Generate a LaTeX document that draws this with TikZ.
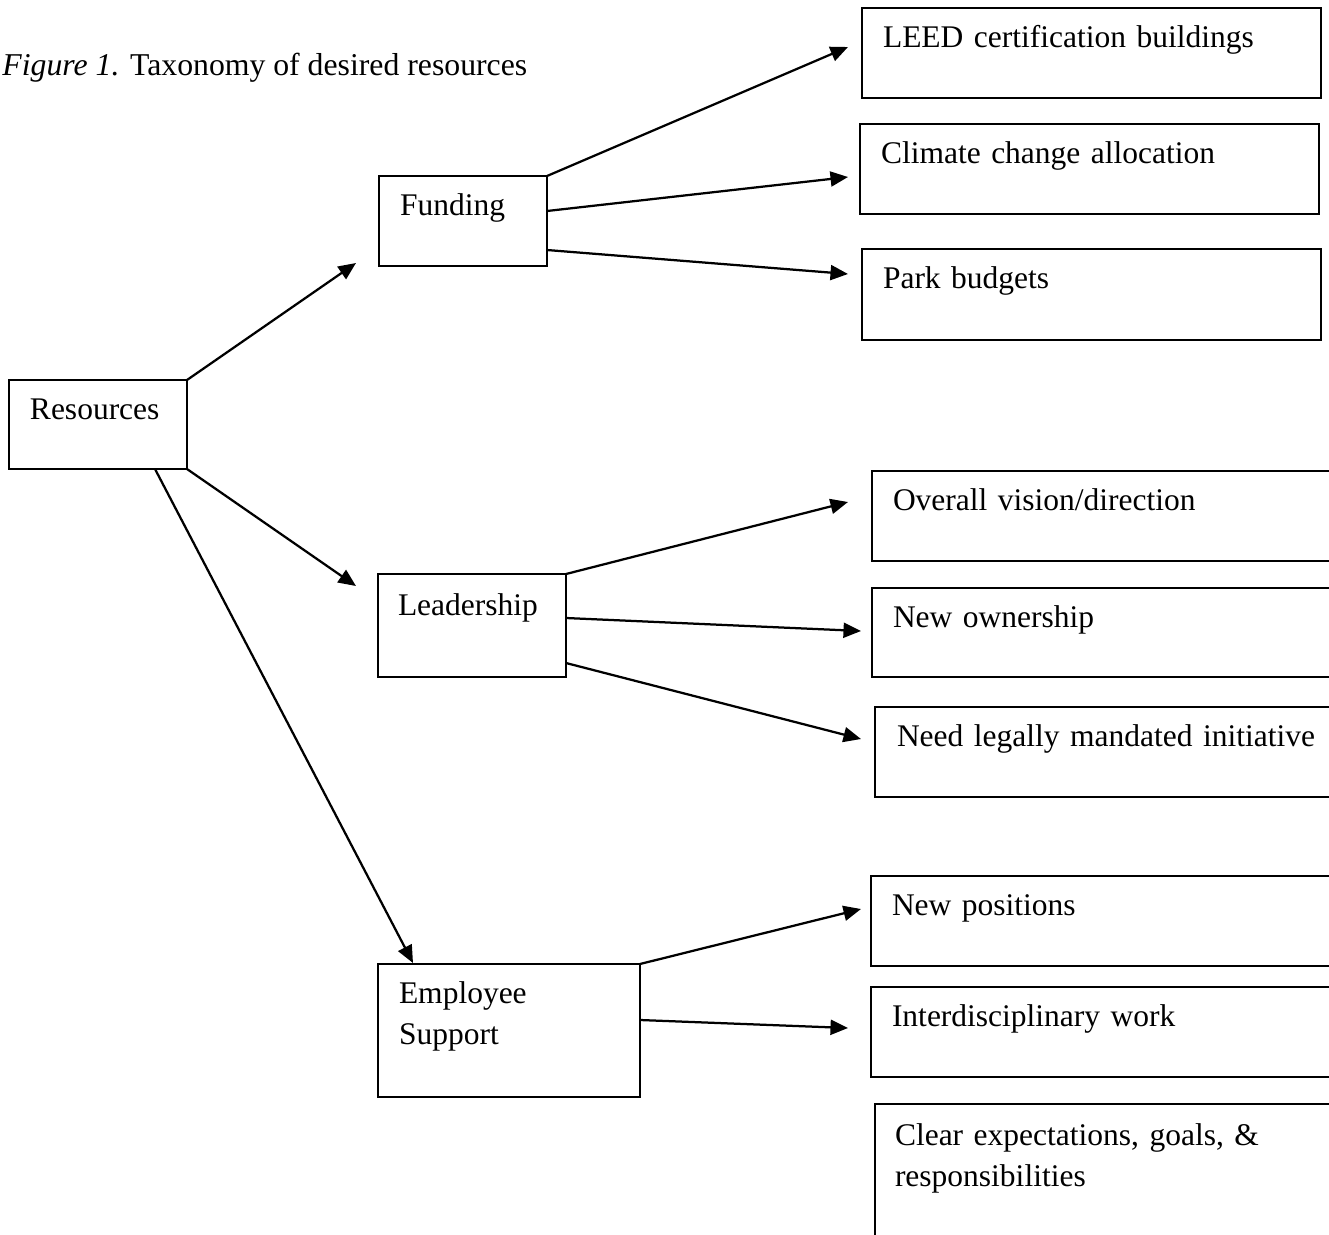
\documentclass[tikz,border=0pt]{standalone}
\usepackage{fontspec}
\setmainfont{Liberation Serif}
\usepackage{tikz}
\usetikzlibrary{positioning, arrows.meta}

\begin{document}
\begin{tikzpicture}[x=0.4pt, y=-0.4pt,
    box/.style={draw, line width=0.9pt, anchor=north west, outer sep=0pt,
        inner xsep=8.4pt, inner ysep=0pt, align=left,
        font=\fontsize{12.6}{16.4}\selectfont, text height=15.8pt, text depth=20.2pt},
    arr/.style={line width=0.9pt, -{Triangle[length=7pt,width=6pt]}}]
    \clip (0,0) rectangle (1329,1235);
    \node[anchor=base west, inner sep=0pt, font=\fontsize{12.7}{15}\selectfont] (T) at (2,75)
        {\textit{Figure 1.} Taxonomy of desired resources};
    % middle column
    \node[box, text width=54.4pt, text depth=19.8pt] (R) at (9,380) {Resources};
    \node[box, text width=50.4pt] (F) at (379,176) {Funding};
    \node[box, inner xsep=8pt, text width=59.2pt, text height=16.4pt, text depth=24.8pt] (L) at (378,574) {Leadership};
    \node[box, text width=88pt, text depth=37.4pt] (E) at (378,964) {Employee\\Support};
    % right column
    \node[box, text width=166.8pt] (F1) at (862,8) {LEED certification buildings};
    \node[box, text width=166.8pt] (F2) at (860,124) {Climate change allocation};
    \node[box, text width=166.8pt, text depth=20.6pt] (F3) at (862,249) {Park budgets};
    \node[box, text width=178.4pt] (L1) at (872,471) {Overall vision/direction};
    \node[box, text width=178.4pt, text depth=19.8pt] (L2) at (872,588) {New ownership};
    \node[box, inner xsep=8.8pt, text width=176.4pt] (L3) at (875,707) {Need legally mandated initiative};
    \node[box, text width=178.8pt] (E1) at (871,876) {New positions};
    \node[box, text width=178.8pt] (E2) at (871,987) {Interdisciplinary work};
    \node[box, inner xsep=8pt, text width=178pt, text height=16.4pt, text depth=46pt] (E3) at (875,1104)
        {Clear expectations, goals, \&\\responsibilities};
    % arrows
    \draw[arr] (R.north east) -- ([shift={(-23,-3)}]F.south west);
    \draw[arr] (R.south east) -- ([shift={(-22,12)}]L.north west);
    \draw[arr] ([shift={(-32,0)}]R.south east) -- ([shift={(35,-1)}]E.north west);
    \draw[arr] (F.north east) -- ([shift={(-14,-6)}]F1.west);
    \draw[arr] ([shift={(0,-10)}]F.east) -- ([shift={(-12,8)}]F2.west);
    \draw[arr] ([shift={(0,29)}]F.east) -- ([shift={(-14,-20.5)}]F3.west);
    \draw[arr] (L.north east) -- ([shift={(-24,-14)}]L1.west);
    \draw[arr] ([shift={(0,-7.5)}]L.east) -- ([shift={(-11,-1.5)}]L2.west);
    \draw[arr] ([shift={(0,37.5)}]L.east) -- ([shift={(-14,-13)}]L3.west);
    \draw[arr] (E.north east) -- ([shift={(-10,-12)}]E1.west);
    \draw[arr] ([shift={(0,-10.5)}]E.east) -- ([shift={(-23,-4)}]E2.west);
\end{tikzpicture}
\end{document}
